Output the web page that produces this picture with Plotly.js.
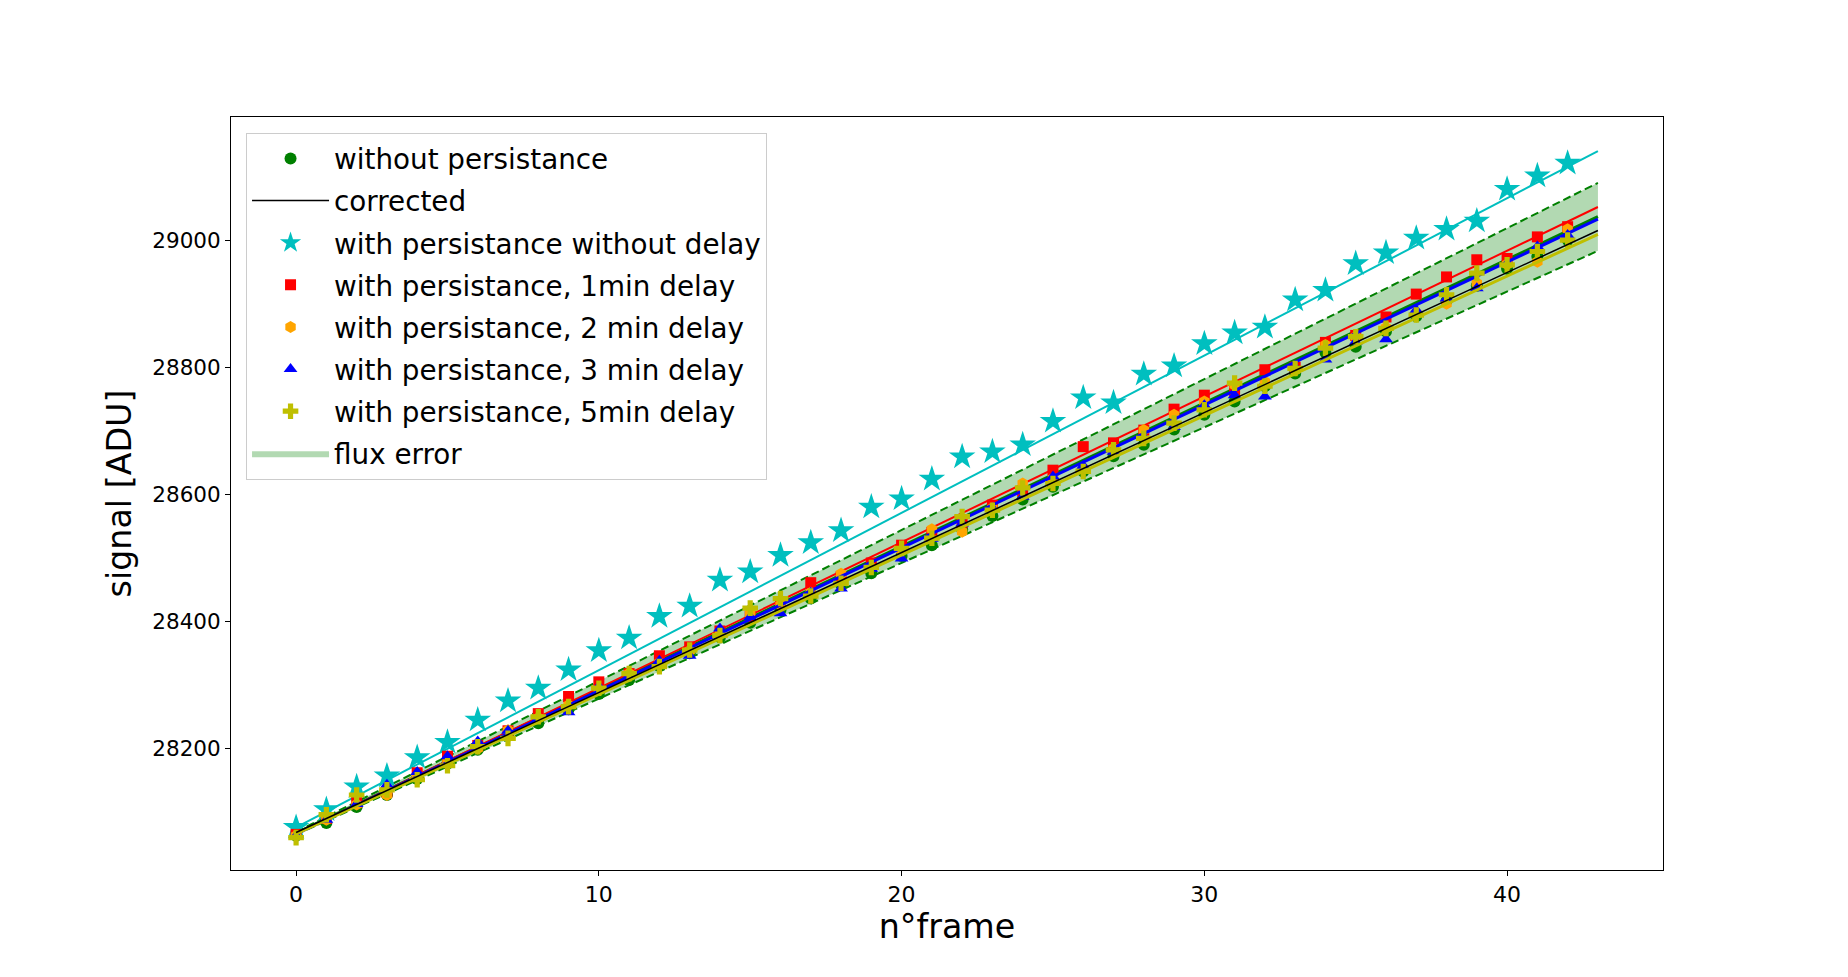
<!DOCTYPE html>
<html>
<head>
<meta charset="utf-8">
<script src="https://cdn.plot.ly/plotly-3.0.1.min.js"></script>
<style>
  html, body { margin: 0; padding: 0; background: #ffffff; }
  #plot { width: 1848px; height: 977px; }
</style>
</head>
<body>
<div id="plot"></div>
<script>
// frame numbers
var frames = [];
for (var i = 0; i <= 42; i++) frames.push(i);

// signal [ADU]
var withoutPersist = [28063, 28083, 28108, 28127, 28152, 28176, 28198, 28220, 28240, 28262,
  28286, 28308, 28330, 28350, 28375, 28398, 28418, 28436, 28458, 28476,
  28503, 28520, 28545, 28566, 28592, 28612, 28636, 28660, 28678, 28702,
  28725, 28746, 28770, 28790, 28823, 28832, 28856, 28880, 28904, 28928,
  28955, 28974, 29000];
var noDelay = [28076, 28104, 28140, 28157, 28186, 28210, 28245, 28275, 28295, 28324,
  28354, 28374, 28408, 28424, 28465, 28478, 28504, 28524, 28543, 28580,
  28593, 28624, 28659, 28667, 28678, 28715, 28752, 28744, 28789, 28802,
  28837, 28854, 28863, 28906, 28921, 28963, 28980, 29003, 29017, 29030,
  29080, 29101, 29121];
var delay1 = [28065, 28090, 28115, 28132, 28162, 28188, 28205, 28228, 28255, 28282,
  28305, 28318, 28346, 28360, 28385, 28408, 28430, 28461, 28470, 28492,
  28520, 28540, 28556, 28583, 28605, 28638, 28675, 28681, 28701, 28734,
  28756, 28762, 28796, 28800, 28839, 28850, 28879, 28915, 28942, 28969,
  28971, 29005, 29021];
var delay2 = [28063, 28088, 28112, 28127, 28155, 28178, 28200, 28229, 28248, 28268,
  28292, 28318, 28335, 28354, 28380, 28412, 28426, 28445, 28475, 28485,
  28512, 28545, 28541, 28578, 28617, 28625, 28641, 28672, 28701, 28725,
  28746, 28772, 28777, 28795, 28835, 28848, 28862, 28885, 28900, 28932,
  28962, 28966, 29017];
var delay3 = [28063, 28088, 28113, 28143, 28163, 28188, 28211, 28228, 28248, 28257,
  28298, 28315, 28338, 28346, 28389, 28407, 28413, 28445, 28452, 28483,
  28499, 28530, 28554, 28578, 28596, 28628, 28645, 28667, 28690, 28706,
  28740, 28756, 28754, 28800, 28812, 28840, 28844, 28890, 28908, 28924,
  28963, 28990, 29008];
var delay5 = [28060, 28096, 28127, 28135, 28151, 28173, 28203, 28216, 28250, 28266,
  28295, 28318, 28329, 28355, 28378, 28421, 28436, 28440, 28460, 28485,
  28515, 28531, 28565, 28575, 28610, 28617, 28636, 28670, 28688, 28712,
  28733, 28775, 28770, 28798, 28830, 28848, 28861, 28882, 28914, 28948,
  28961, 28982, 29000];

// straight fits, values at frame 0 and frame 43
var fitX = [0, 43];
var fitNoDelay = [28076, 29140];
var fitDelay1 = [28066, 29052];
var fitWithout = [28067, 29037];
var fitDelay3 = [28066, 29033];
var fitCorrected = [28068, 29015];
var fitDelay5 = [28066, 29009];
var bandUpper = [28069, 29090];
var bandLower = [28065, 28983];

var font = "DejaVu Sans";

function pts(y, name, color, symbol, size, rank) {
  return {
    x: frames, y: y, name: name, type: 'scatter', mode: 'markers',
    marker: {color: color, symbol: symbol, size: size, line: {width: 0}},
    legendgroup: name, legendrank: rank
  };
}
function fit(y, color, width) {
  return {
    x: fitX, y: y, type: 'scatter', mode: 'lines', showlegend: false,
    line: {color: color, width: width}, hoverinfo: 'skip'
  };
}

var data = [
  // flux error band
  {x: fitX, y: bandLower, type: 'scatter', mode: 'lines', line: {width: 0},
   showlegend: false, legendgroup: 'band'},
  {x: fitX, y: bandUpper, type: 'scatter', mode: 'lines', line: {width: 0},
   fill: 'tonexty', fillcolor: 'rgba(0,128,0,0.3)', name: 'flux error',
   legendgroup: 'band', legendrank: 8},
  {x: fitX, y: bandUpper, type: 'scatter', mode: 'lines', showlegend: false,
   line: {color: '#008000', width: 2, dash: '8px,4px'}},
  {x: fitX, y: bandLower, type: 'scatter', mode: 'lines', showlegend: false,
   line: {color: '#008000', width: 2, dash: '8px,4px'}},

  pts(withoutPersist, 'without persistance', '#008000', 'circle', 12, 1),
  fit(fitWithout, '#008000', 3),
  pts(noDelay, 'with persistance without delay', '#00bfbf', 'star', 20, 3),
  fit(fitNoDelay, '#00bfbf', 2),
  pts(delay1, 'with persistance, 1min delay', '#ff0000', 'square', 11, 4),
  fit(fitDelay1, '#ff0000', 2),
  pts(delay2, 'with persistance, 2 min delay', '#ffa500', 'hexagon', 12, 5),
  pts(delay3, 'with persistance, 3 min delay', '#0000ff', 'triangle-up', 12, 6),
  fit(fitDelay3, '#0000ff', 3),
  pts(delay5, 'with persistance, 5min delay', '#bfbf00', 'cross', 13, 7),
  fit(fitDelay5, '#bfbf00', 3),
  {x: fitX, y: fitCorrected, type: 'scatter', mode: 'lines', name: 'corrected',
   line: {color: '#000000', width: 1.5}, legendgroup: 'corrected', legendrank: 2}
];

var layout = {
  width: 1848,
  height: 977,
  margin: {l: 231, r: 185, t: 117, b: 107},
  paper_bgcolor: '#ffffff',
  plot_bgcolor: '#ffffff',
  font: {family: font, color: '#000000'},
  showlegend: true,
  legend: {
    x: 0.0105, y: 0.979, xanchor: 'left', yanchor: 'top',
    bgcolor: 'rgba(255,255,255,0.8)', bordercolor: '#cccccc', borderwidth: 1,
    font: {family: font, size: 27.8, color: '#000000'},
    traceorder: 'grouped', tracegroupgap: 3, itemwidth: 77
  },
  xaxis: {
    range: [-2.15, 45.15], dtick: 10, tick0: 0,
    showgrid: false, zeroline: false,
    showline: true, mirror: true, linecolor: '#000000', linewidth: 1.1,
    ticks: 'outside', ticklen: 4.9, tickwidth: 1.1, tickcolor: '#000000',
    tickfont: {family: font, size: 22},
    title: {text: 'n°frame', font: {family: font, size: 33.3}, standoff: 3},
    automargin: false
  },
  yaxis: {
    range: [28009, 29193.6], dtick: 200, tick0: 0, tickformat: 'd',
    showgrid: false, zeroline: false,
    showline: true, mirror: true, linecolor: '#000000', linewidth: 1.1,
    ticks: 'outside', ticklen: 4.9, tickwidth: 1.1, tickcolor: '#000000',
    tickfont: {family: font, size: 21.5},
    title: {text: 'signal [ADU]', font: {family: font, size: 33.3}, standoff: 10},
    automargin: false
  }
};

Plotly.newPlot('plot', data, layout, {displayModeBar: false, staticPlot: true});
</script>
</body>
</html>
